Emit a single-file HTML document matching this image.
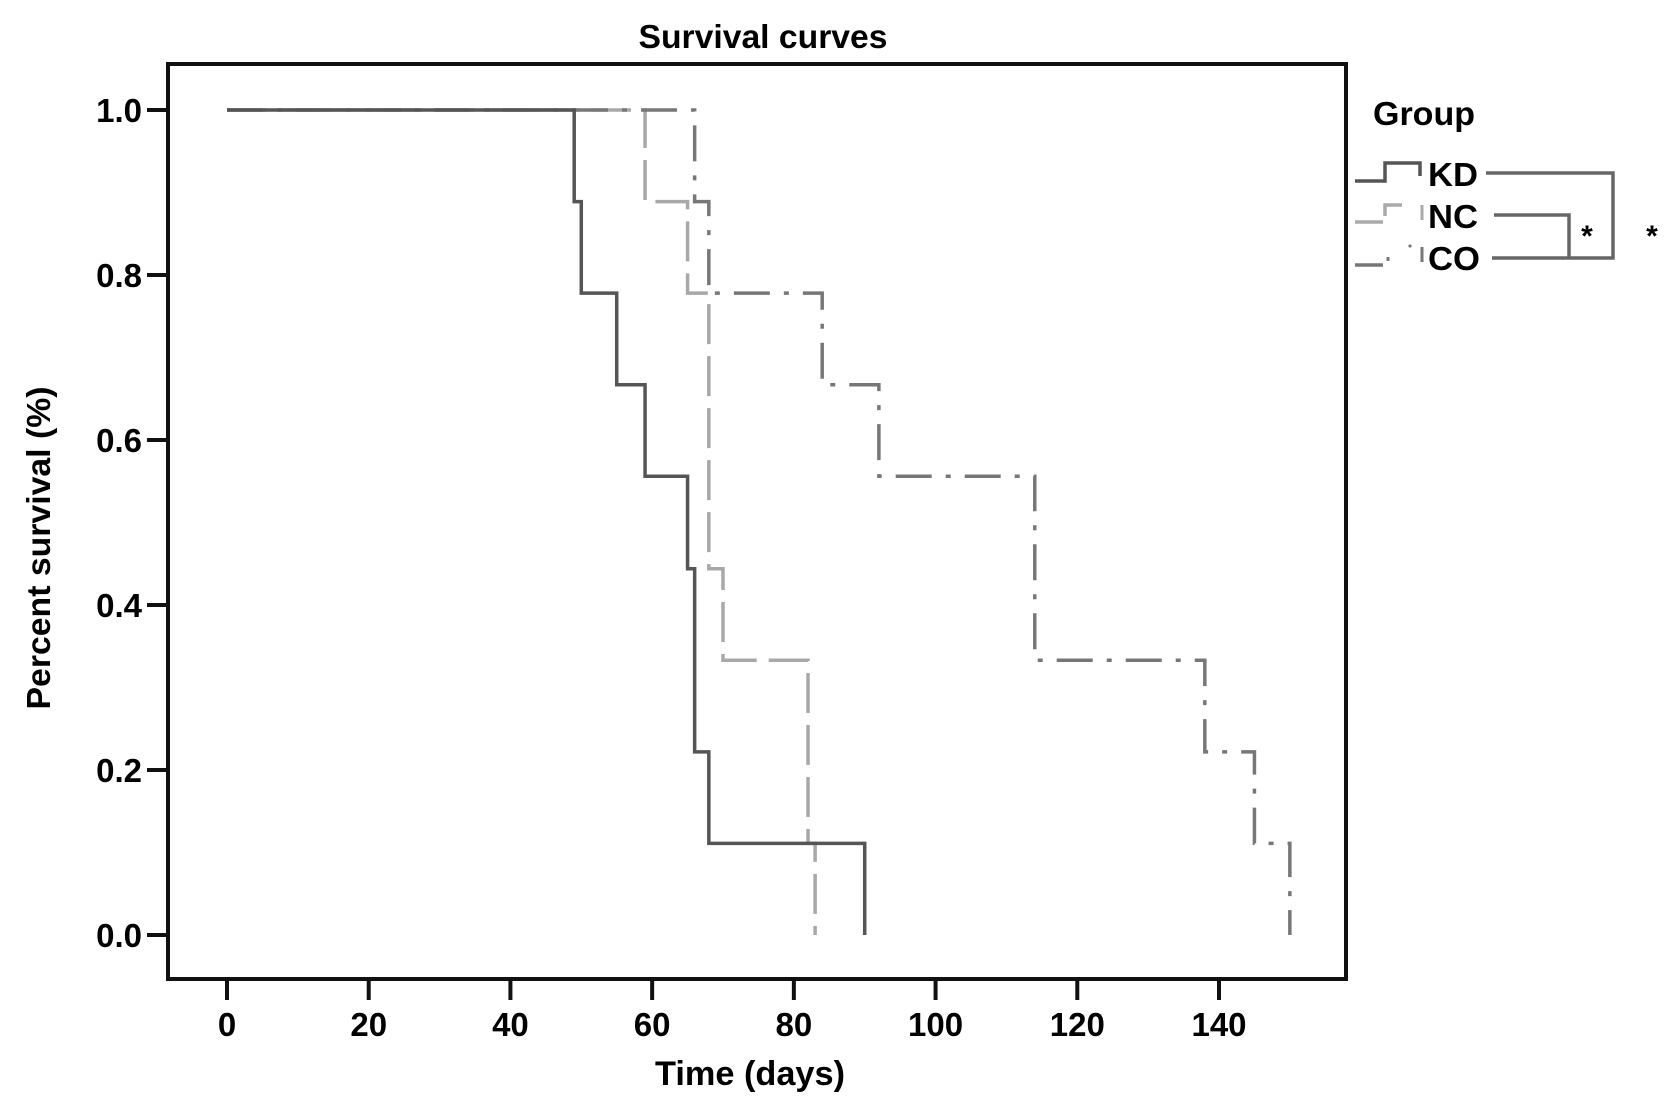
<!DOCTYPE html>
<html><head><meta charset="utf-8"><style>
body{margin:0;background:#fff;}
svg{display:block;}
text{font-family:"Liberation Sans",sans-serif;font-weight:bold;fill:#000;}
</style></head><body>
<svg id="chart" width="1677" height="1109" viewBox="0 0 1677 1109" xmlns="http://www.w3.org/2000/svg">
<text x="763" y="48" font-size="33" text-anchor="middle" textLength="249" lengthAdjust="spacingAndGlyphs">Survival curves</text>
<rect x="168" y="64" width="1178" height="915" fill="none" stroke="#111" stroke-width="4"/>
<g id="yaxis"></g>
<g id="xaxis"></g>
<text transform="translate(50,548) rotate(-90)" font-size="33" text-anchor="middle" textLength="323" lengthAdjust="spacingAndGlyphs">Percent survival (%)</text>
<text x="750" y="1085" font-size="34" text-anchor="middle" textLength="190" lengthAdjust="spacingAndGlyphs">Time (days)</text>
<g id="series"></g>
<g>
<text x="1373" y="125" font-size="33" textLength="102" lengthAdjust="spacingAndGlyphs">Group</text>
<polyline points="1355,181 1385,181 1385,163 1420,163 1420,176" fill="none" stroke="#555" stroke-width="3.5"/>
<polyline points="1355,222 1385,222 1385,205 1405,205" fill="none" stroke="#aaa" stroke-width="3.5" stroke-dasharray="28,8"/>
<line x1="1422" y1="205" x2="1422" y2="220" stroke="#aaa" stroke-width="3"/>
<polyline points="1355,265 1383,265" fill="none" stroke="#777" stroke-width="3.5"/>
<line x1="1388" y1="257" x2="1388" y2="261" stroke="#777" stroke-width="3"/>
<line x1="1409" y1="245" x2="1411" y2="247" stroke="#777" stroke-width="3"/>
<line x1="1422" y1="247" x2="1422" y2="262" stroke="#777" stroke-width="3"/>
<text x="1428" y="186" font-size="33" textLength="50" lengthAdjust="spacingAndGlyphs">KD</text>
<text x="1428" y="228" font-size="33" textLength="50" lengthAdjust="spacingAndGlyphs">NC</text>
<text x="1428" y="270" font-size="33" textLength="52" lengthAdjust="spacingAndGlyphs">CO</text>
<polyline points="1486,173 1613,173 1613,258 1492,258" fill="none" stroke="#666" stroke-width="3.5"/>
<polyline points="1494,215 1569,215 1569,258" fill="none" stroke="#666" stroke-width="3.5"/>
<text x="1587" y="246" font-size="30" text-anchor="middle">*</text>
<text x="1652" y="246" font-size="30" text-anchor="middle">*</text>
</g>
</svg>
<script>
const xTicks=[0,20,40,60,80,100,120,140];
const yTicks=[0,0.2,0.4,0.6,0.8,1.0];
const yTickLabels=["0.0","0.2","0.4","0.6","0.8","1.0"];
const kdTimes=[0,49,50,55,59,65,66,68,90];
const kdSurv=[1,0.889,0.778,0.667,0.556,0.444,0.222,0.111,0];
const ncTimes=[0,59,65,68,70,82,83];
const ncSurv=[1,0.889,0.778,0.444,0.333,0.111,0];
const coTimes=[0,66,68,84,92,114,138,145,150];
const coSurv=[1,0.889,0.778,0.667,0.556,0.333,0.222,0.111,0];
const NS="http://www.w3.org/2000/svg";
const xs=v=>227+v*(1219-227)/140;
const ys=v=>935-v*(935-110);
function mk(t,a,p){const e=document.createElementNS(NS,t);for(const k in a)e.setAttribute(k,a[k]);p.appendChild(e);return e;}
const ya=document.getElementById('yaxis'),xa=document.getElementById('xaxis'),sg=document.getElementById('series');
yTicks.forEach((v,i)=>{
 const l=mk('line',{x1:147,x2:168,y1:ys(v),y2:ys(v),stroke:'#111','stroke-width':4},ya);
 
 
 const t=mk('text',{x:142,y:ys(v)+12,'font-size':33,'text-anchor':'end'},ya);
 t.textContent=yTickLabels[i];
 
 
});
xTicks.forEach(v=>{
 const l=mk('line',{x1:xs(v),x2:xs(v),y1:979,y2:1000,stroke:'#111','stroke-width':4},xa);
 
 
 const t=mk('text',{x:xs(v),y:1036,'font-size':33,'text-anchor':'middle'},xa);
 t.textContent=String(v);
 
 
});
function stepPts(T,S){let p=[];for(let i=0;i<T.length;i++){if(i>0)p.push(xs(T[i])+','+ys(S[i-1]));p.push(xs(T[i])+','+ys(S[i]));}return p.join(' ');}
const s1=mk('polyline',{points:stepPts(ncTimes,ncSurv),fill:'none',stroke:'#a8a8a8','stroke-width':3.5,'stroke-dasharray':'40,12'},sg);


const s2=mk('polyline',{points:stepPts(coTimes,coSurv),fill:'none',stroke:'#777','stroke-width':3.5,'stroke-dasharray':'36,14,5,14'},sg);


const s3=mk('polyline',{points:stepPts(kdTimes,kdSurv),fill:'none',stroke:'#555','stroke-width':3.5},sg);


</script>
</body></html>
